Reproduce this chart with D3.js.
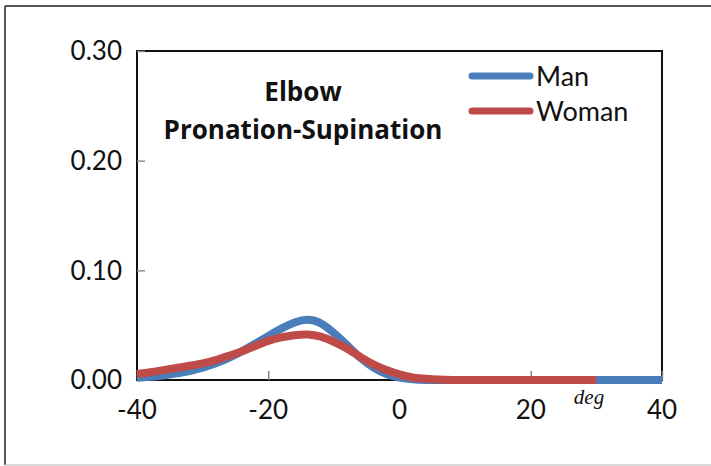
<!DOCTYPE html>
<html>
<head>
<meta charset="utf-8">
<script src="https://cdn.jsdelivr.net/npm/d3@7"></script>
<style>
  body { margin: 0; background: #fff; }
  svg { display: block; }
</style>
</head>
<body>
<script>
//data
var degrees = [-40,-38,-36,-34,-32,-30,-28,-26,-24,-22,-20,-18,-16,-14,-12,-10,-8,-6,-4,-2,0,2,4,6,8,10,12,14,16,18,20,22,24,26,28,30,32,34,36,38,40];
var manValues = [0.002,0.003,0.004,0.006,0.008,0.011,0.015,0.020,0.026,0.033,0.040,0.047,0.053,0.056,0.053,0.043,0.032,0.020,0.011,0.005,0.002,0.0005,0,0,0,0,0,0,0,0,0,0,0,0,0,0,0,0,0,0,0];
var womanValues = [0.0055,0.007,0.009,0.011,0.013,0.015,0.018,0.022,0.026,0.031,0.036,0.039,0.041,0.042,0.040,0.035,0.029,0.021,0.014,0.009,0.005,0.002,0.001,0.0003,0,0,0,0,0,0,0,0,0,0,0,0];
var xTicks = [-40,-20,0,20,40];
var yTicks = [0,0.10,0.20,0.30];
var seriesNames = ["Man","Woman"];
var seriesColors = ["#4a7ebb","#be4b48"];

//frame
var width = 711,
    height = 466;

var svg = d3.select("body")
    .append("svg")
    .attr("width", width)
    .attr("height", height);

//outer picture border
svg.append("line").attr("x1",5).attr("y1",6).attr("x2",711).attr("y2",6)
    .attr("stroke","#555").attr("stroke-width",2);
svg.append("line").attr("x1",5).attr("y1",6).attr("x2",5).attr("y2",465)
    .attr("stroke","#555").attr("stroke-width",2);
svg.append("line").attr("x1",5).attr("y1",465).attr("x2",711).attr("y2",465)
    .attr("stroke","#ccc").attr("stroke-width",1.5);

var plotLeft = 137, plotRight = 662, plotTop = 51, plotBottom = 380;

var x = d3.scaleLinear().domain([-40,40]).range([plotLeft,plotRight]);
var y = d3.scaleLinear().domain([0,0.30]).range([plotBottom,plotTop]);

//plot frame
svg.append("rect")
    .attr("x", plotLeft).attr("y", plotTop)
    .attr("width", plotRight - plotLeft).attr("height", plotBottom - plotTop)
    .attr("fill","none").attr("stroke","#111").attr("stroke-width",2);

//ticks pointing inward
var yAxis = svg.append("g")
    .attr("transform","translate(" + plotLeft + ",0)")
    .call(d3.axisRight(y).tickValues(yTicks).tickSize(8).tickFormat(""));
yAxis.select(".domain").remove();
yAxis.selectAll("line").attr("stroke","#888").attr("stroke-width",1.5);

var xAxis = svg.append("g")
    .attr("transform","translate(0," + plotBottom + ")")
    .call(d3.axisTop(x).tickValues(xTicks).tickSize(9).tickFormat(""));
xAxis.select(".domain").remove();
xAxis.selectAll("line").attr("stroke","#888").attr("stroke-width",1.5);

//tick labels
svg.selectAll(".ylab")
    .data(yTicks)
    .enter()
    .append("text")
    .attr("class","ylab")
    .attr("x", 122)
    .attr("y", function(d){ return y(d); })
    .attr("dy","0.36em")
    .attr("text-anchor","end")
    .style("font-family","Lato, 'Open Sans', sans-serif")
    .style("font-size","26px")
    .attr("fill","#111")
    .text(function(d){ return d3.format(".2f")(d); });

svg.selectAll(".xlab")
    .data(xTicks)
    .enter()
    .append("text")
    .attr("class","xlab")
    .attr("x", function(d){ return x(d); })
    .attr("y", 419)
    .attr("text-anchor","middle")
    .style("font-family","Lato, 'Open Sans', sans-serif")
    .style("font-size","26px")
    .attr("fill","#111")
    .text(function(d){ return d; });

svg.append("text")
    .attr("x", 589).attr("y", 404)
    .attr("text-anchor","middle")
    .style("font-family","'Liberation Serif', serif")
    .style("font-style","italic")
    .style("font-size","21px")
    .attr("fill","#111")
    .text("deg");

//curves
var line = d3.line()
    .x(function(d){ return x(d[0]); })
    .y(function(d){ return y(d[1]); })
    .curve(d3.curveBasis);

var series = [manValues, womanValues].map(function(vals){
    return vals.map(function(v, i){ return [degrees[i], v]; });
});

svg.selectAll(".curve")
    .data(series)
    .enter()
    .append("path")
    .attr("class","curve")
    .attr("d", line)
    .attr("fill","none")
    .attr("stroke", function(d, i){ return seriesColors[i]; })
    .attr("stroke-width",8)
    .attr("stroke-linejoin","round");

//title
var title = svg.append("text")
    .attr("text-anchor","middle")
    .style("font-family","'Open Sans', Lato, sans-serif")
    .style("font-weight","bold")
    .style("font-size","26px")
    .attr("fill","#111");
title.append("tspan").attr("x",303).attr("y",101).text("Elbow");
title.append("tspan").attr("x",303).attr("y",139).text("Pronation-Supination");

//legend
var legend = svg.selectAll(".legend")
    .data(seriesNames)
    .enter()
    .append("g")
    .attr("class","legend")
    .attr("transform", function(d, i){ return "translate(0," + (76 + i * 35) + ")"; });

legend.append("line")
    .attr("x1",472).attr("x2",530)
    .attr("stroke", function(d, i){ return seriesColors[i]; })
    .attr("stroke-width",7)
    .attr("stroke-linecap","round");

legend.append("text")
    .attr("x",536)
    .attr("dy","0.36em")
    .style("font-family","Lato, 'Open Sans', sans-serif")
    .style("font-size","27px")
    .attr("fill","#111")
    .text(function(d){ return d; });
</script>
</body>
</html>
